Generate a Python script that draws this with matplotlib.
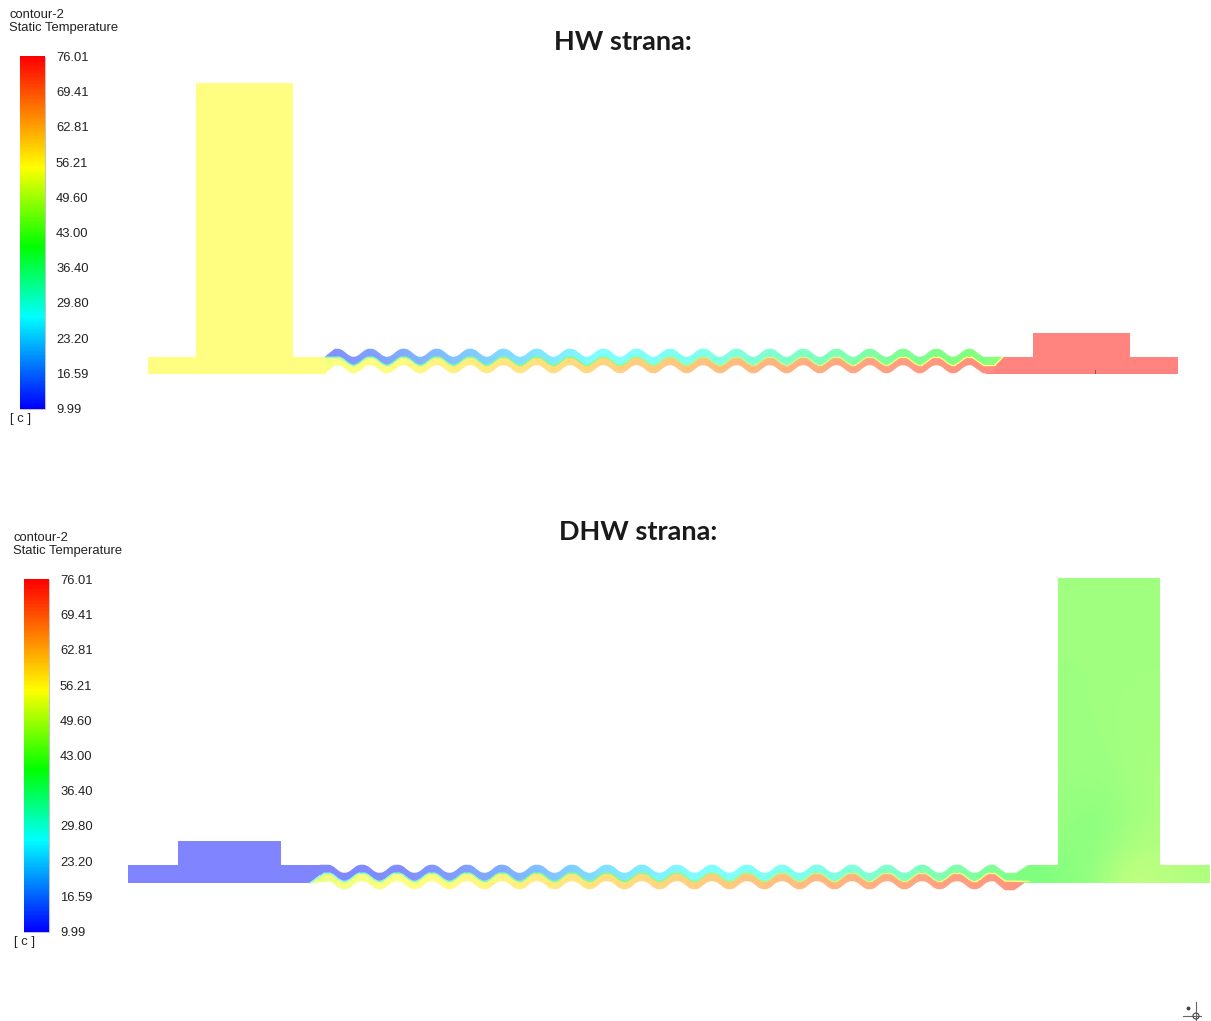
import numpy as np
import matplotlib
matplotlib.use("Agg")
import matplotlib.pyplot as plt
from matplotlib.colors import LinearSegmentedColormap, Normalize
from matplotlib.collections import LineCollection, PolyCollection
from matplotlib.patches import Polygon, Circle

# ---- legend values
tick_labels = ["76.01", "69.41", "62.81", "56.21", "49.60", "43.00",
               "36.40", "29.80", "23.20", "16.59", "9.99"]
t_min, t_max = 9.99, 76.01

# ---- colour scale (position 0..1, colour)
cbar_pos = [0.0, 0.26, 0.46, 0.685, 1.0]
cbar_col = ["#0000ff", "#00ffff", "#00ff00", "#ffff00", "#ff0000"]

# ---- HW side: temperature along the channel
hw_x = [325, 400, 500, 600, 700, 800, 900, 1003]
hw_upper = [12, 16, 22, 27, 29, 33, 38, 42]
hw_lower = [54, 56, 59, 62, 65, 68, 71, 74]
hw_wall = [33, 35, 38, 42, 46, 49, 52, 55]
hw_inlet_temp = 55.2
hw_outlet_temp = 75.0

# ---- DHW side
dhw_x = [310, 400, 500, 600, 700, 800, 900, 1029]
dhw_upper = [11, 12, 16, 23, 27, 29, 33, 40]
dhw_lower = [53, 55, 57, 60, 63, 66, 69, 73]
dhw_wall = [30, 33, 36, 40, 43, 47, 50, 55]
dhw_inlet_temp = 11.0
# outlet header, rows top to bottom, columns left to right
dhw_outlet_temp = [
    [44.1, 44.1, 44.1, 44.1, 44.1, 44.1],
    [44.1, 44.1, 44.1, 44.1, 44.1, 44.1],
    [44.0, 44.0, 44.0, 44.3, 44.3, 44.3],
    [44.0, 44.0, 44.0, 44.5, 44.5, 44.5],
    [44.0, 44.0, 43.8, 44.5, 45.0, 45.0],
    [44.0, 43.6, 43.0, 44.5, 45.5, 45.5],
    [44.0, 43.0, 40.8, 44.0, 46.0, 46.0],
    [39.5, 41.0, 43.0, 48.5, 47.0, 46.0],
]

# ---- plate outlines, pixels of the picture
hw_peaks = 337 + 33.3 * np.arange(20)
dhw_peaks = 327 + 35.0 * np.arange(20)

hw_in_block = [(148, 357), (196, 357), (196, 83), (293, 83), (293, 357), (325, 357),
               (333, 365), (325, 374), (148, 374)]
hw_out_block = [(995, 365), (1003, 357), (1033, 357), (1033, 333), (1130, 333), (1130, 357),
                (1178, 357), (1178, 374), (985, 374)]
dhw_in_block = [(128, 865), (178, 865), (178, 841), (281, 841), (281, 865), (330, 865),
                (340, 873), (322, 873), (310, 883), (128, 883)]
dhw_out_block = [(1016, 873), (1028, 865), (1058, 865), (1058, 578), (1160, 578), (1160, 865),
                 (1210, 865), (1210, 883), (1024, 883), (1016, 881)]

pale = LinearSegmentedColormap.from_list(
    "pale", [(p, tuple(0.5 + 0.5 * np.array(matplotlib.colors.to_rgb(c)))) for p, c in zip(cbar_pos, cbar_col)])
full = LinearSegmentedColormap.from_list("full", list(zip(cbar_pos, cbar_col)))
norm = Normalize(t_min, t_max)


def wave(peaks, base, hw, hs, amp=8.0):
    # corrugation with softened corners, peak at y=base, trough at y=base+amp
    pts = []
    for i, p in enumerate(peaks):
        pts += [(p - hw, base), (p + hw, base)]
        if i < len(peaks) - 1:
            mid = (p + peaks[i + 1]) / 2
            pts += [(mid - hs, base + amp), (mid + hs, base + amp)]
    pts = np.array(pts)
    a, b = pts[:-1], pts[1:]
    new = np.empty((len(a) * 2, 2))
    new[0::2] = 0.8 * a + 0.2 * b
    new[1::2] = 0.2 * a + 0.8 * b
    return [tuple(p) for p in new]


def band(ax, top, bottom, xs, temps):
    # strips between two outlines, colour follows the temperature along x
    tx, ty = zip(*top)
    bx, by = zip(*bottom)
    x = np.arange(max(tx[0], bx[0]), min(tx[-1], bx[-1]) + 1, 1.0)
    yt = np.interp(x, tx, ty)
    yb = np.interp(x, bx, by)
    verts = [[(x[i], yt[i]), (x[i + 1], yt[i + 1]), (x[i + 1], yb[i + 1]), (x[i], yb[i])]
             for i in range(len(x) - 1)]
    pc = PolyCollection(verts, cmap=pale, norm=norm, edgecolors="face", linewidths=0.3, zorder=2)
    pc.set_array(np.interp(x[:-1], xs, temps))
    ax.add_collection(pc)


def wall(ax, pts, xs, temps):
    pts = np.array(pts, dtype=float)
    segs = np.stack([pts[:-1], pts[1:]], axis=1)
    lc = LineCollection(segs, cmap=pale, norm=norm, linewidths=1.0, zorder=3, capstyle="round")
    lc.set_array(np.interp(segs[:, :, 0].mean(axis=1), xs, temps))
    ax.add_collection(lc)


def legend(ax, dx, dy):
    ax.text(9 + dx, 15 + dy, "contour-2", **txt)
    ax.text(9 + dx, 28 + dy, "Static Temperature", **txt)
    ax.add_patch(plt.Rectangle((20 + dx, 57 + dy), 25, 352, fill=False, ec="#c4c4c4", lw=0.8, zorder=1))
    ax.imshow(np.linspace(1, 0, 352)[:, None], extent=(20 + dx, 45 + dx, 409 + dy, 57 + dy),
              cmap=full, aspect="auto", zorder=2)
    for lab, y in zip(tick_labels, np.linspace(57, 409, len(tick_labels))):
        ax.text(56 + dx, y + 1 + dy, lab, **txt)
    ax.text(20 + dx, 419 + dy, "[ c ]", ha="center", **{k: v for k, v in txt.items() if k != "ha"})


txt = dict(family="Liberation Sans", fontsize=9.4, color="#222222", va="center", ha="left")

fig = plt.figure(figsize=(12.11, 10.21), dpi=100)
ax = fig.add_axes([0, 0, 1, 1])

legend(ax, 0, 0)
legend(ax, 4, 523)

title = dict(family="Lato", fontweight="bold", fontsize=19.5, color="#1a1a1a", ha="center", va="center")
ax.text(623, 42, "HW strana:", **title)
ax.text(638, 532, "DHW strana:", **title)

# ---- HW plates
top = [(325, 357)] + wave(hw_peaks, 349, 3.5, 3) + [(983, 357), (1003, 357)]
mid = [(325, 357)] + wave(hw_peaks, 357, 3.5, 3) + [(983, 365), (995, 365), (1003, 357)]
low = [(325, 373)] + wave(hw_peaks, 365, 3.5, 3) + [(983, 373), (995, 373)]
ax.add_patch(Polygon(hw_in_block, fc=pale(norm(hw_inlet_temp)), ec="none", zorder=1))
ax.add_patch(Polygon(hw_out_block, fc=pale(norm(hw_outlet_temp)), ec="none", zorder=1))
band(ax, top, mid, hw_x, hw_upper)
band(ax, mid, low, hw_x, hw_lower)
wall(ax, mid, hw_x, hw_wall)
ax.plot([1095, 1095], [370, 373], color="#555555", lw=0.6, zorder=4)

# ---- DHW plates
top = [(320, 865)] + wave(dhw_peaks, 865, 4, 3.5)[1:] + [(1005, 873), (1020, 873)]
mid = [(310, 883)] + wave(dhw_peaks, 873, 4, 3.5) + [(1005, 881), (1029, 881.5)]
low = [(310, 883)] + wave(dhw_peaks, 881, 4, 3.5)[1:] + [(1005, 890), (1014, 890), (1024, 883)]
ax.add_patch(Polygon(dhw_in_block, fc=pale(norm(dhw_inlet_temp)), ec="none", zorder=1))
band(ax, top, mid, dhw_x, dhw_upper)
band(ax, mid, low, dhw_x, dhw_lower)
im = ax.imshow(dhw_outlet_temp, extent=(1010, 1214, 890, 574), cmap=pale, norm=norm,
               aspect="auto", interpolation="bicubic", zorder=2.6)
im.set_clip_path(Polygon(dhw_out_block, transform=ax.transData))
wall(ax, mid, dhw_x, dhw_wall)

# ---- orientation triad, bottom right
ax.plot([1196, 1196], [1002, 1021], color="#666666", lw=0.8, zorder=4)
ax.plot([1183, 1201], [1016, 1016], color="#666666", lw=0.8, zorder=4)
ax.add_patch(Circle((1196, 1016), 3, fill=False, ec="#444444", lw=0.8, zorder=4))
ax.plot([1188], [1008], "o", ms=1.8, color="#444444", zorder=4)

ax.set_xlim(0, 1211)
ax.set_ylim(1021, 0)
ax.axis("off")
fig.savefig("out.png", dpi=100, facecolor="white")
